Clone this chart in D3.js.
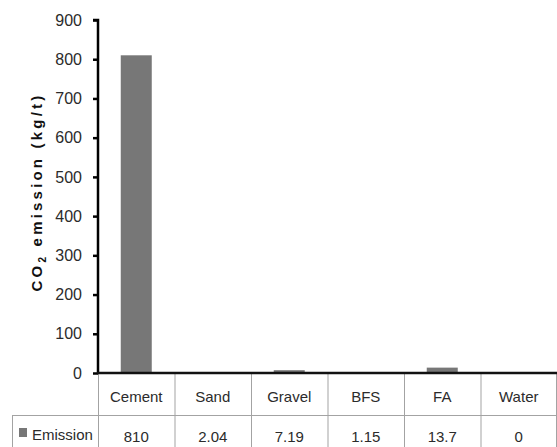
<!DOCTYPE html>
<html>
<head>
<meta charset="utf-8">
<script src="https://cdn.jsdelivr.net/npm/d3@7"></script>
<style>
  html, body { margin: 0; padding: 0; background: #fff; }
  svg { display: block; font-family: "Liberation Sans", Arial, sans-serif; }
</style>
</head>
<body>
<svg id="chart" width="557" height="447"></svg>
<script>
// Material categories and CO2 emission factors (kg/t)
const categories = ["Cement", "Sand", "Gravel", "BFS", "FA", "Water"];
const emissions = [810, 2.04, 7.19, 1.15, 13.7, 0];
const valueLabels = ["810", "2.04", "7.19", "1.15", "13.7", "0"];
const yTicks = [0, 100, 200, 300, 400, 500, 600, 700, 800, 900];
const seriesName = "Emission";

(function draw() {
  const svg = d3.select("#chart");
  const H = 447;
  const plotLeft = 98, plotRight = 557, plotTop = 20, plotBottom = 373;
  const rowH = 42;
  const fs = 15;
  const textColor = "#2b2b2b";

  const x = d3.scaleBand().domain(categories).range([plotLeft, plotRight]).paddingInner(0).paddingOuter(0);
  const y = d3.scaleLinear().domain([0, 900]).range([plotBottom, plotTop]);

  const barW = 31;
  const barColor = "#777777";

  // bars
  svg.selectAll("rect.bar")
    .data(categories)
    .join("rect")
    .attr("class", "bar")
    .attr("x", (d) => x(d) + x.bandwidth() / 2 - barW / 2)
    .attr("width", barW)
    .attr("y", (d, i) => y(emissions[i]))
    .attr("height", (d, i) => plotBottom - y(emissions[i]))
    .attr("fill", barColor);

  // y axis
  const yAxis = d3.axisLeft(y).tickValues(yTicks).tickSize(5).tickPadding(11);
  const gy = svg.append("g").attr("transform", `translate(${plotLeft},0)`).call(yAxis);
  gy.attr("font-size", 16).attr("font-family", "Liberation Sans, Arial, sans-serif");
  gy.select(".domain").attr("stroke", "#000").attr("stroke-width", 2.5)
    .attr("d", `M-5,${plotTop}H0V${plotBottom}`);
  gy.selectAll(".tick line").attr("stroke", "#000").attr("stroke-width", 2.5);
  gy.selectAll(".tick text").attr("fill", textColor);

  // data table grid
  const grid = svg.append("g").attr("stroke", "#a3a3a3").attr("stroke-width", 1).attr("fill", "none");
  const colEdges = categories.map((c) => x(c)).concat([plotRight - 1]);
  colEdges.forEach((cx) => {
    grid.append("line").attr("x1", cx + 0.5).attr("x2", cx + 0.5).attr("y1", plotBottom).attr("y2", H);
  });
  grid.append("line").attr("x1", 12).attr("x2", plotRight).attr("y1", plotBottom + rowH + 0.5).attr("y2", plotBottom + rowH + 0.5);
  grid.append("line").attr("x1", 12.5).attr("x2", 12.5).attr("y1", plotBottom + rowH).attr("y2", H);

  // x axis line (baseline)
  svg.append("line").attr("x1", plotLeft - 1).attr("x2", plotRight).attr("y1", plotBottom).attr("y2", plotBottom)
    .attr("stroke", "#111").attr("stroke-width", 2.5);

  // table header row: category names
  svg.append("g").selectAll("text")
    .data(categories)
    .join("text")
    .attr("x", (d) => x(d) + x.bandwidth() / 2)
    .attr("y", 402)
    .attr("text-anchor", "middle")
    .attr("font-size", fs)
    .attr("fill", textColor)
    .text((d) => d);

  // table value row
  svg.append("g").selectAll("text")
    .data(valueLabels)
    .join("text")
    .attr("x", (d, i) => x(categories[i]) + x.bandwidth() / 2)
    .attr("y", 442)
    .attr("text-anchor", "middle")
    .attr("font-size", fs)
    .attr("fill", textColor)
    .text((d) => d);

  // legend key in table row header
  svg.append("rect").attr("x", 19).attr("y", 428).attr("width", 8).attr("height", 9).attr("fill", barColor);
  svg.append("text").attr("x", 32).attr("y", 440)
    .attr("font-size", fs).attr("fill", textColor).text(seriesName);

  // y axis title
  const title = svg.append("text")
    .attr("transform", "translate(42,192) rotate(-90)")
    .attr("text-anchor", "middle")
    .attr("font-size", 15)
    .attr("font-weight", "bold")
    .attr("letter-spacing", 3.2)
    .attr("fill", "#111");
  title.append("tspan").text("CO");
  title.append("tspan").attr("font-size", 10).attr("dy", 4).text("2");
  title.append("tspan").attr("dy", -4).text(" emission  (kg/t)");
})();
</script>
</body>
</html>
